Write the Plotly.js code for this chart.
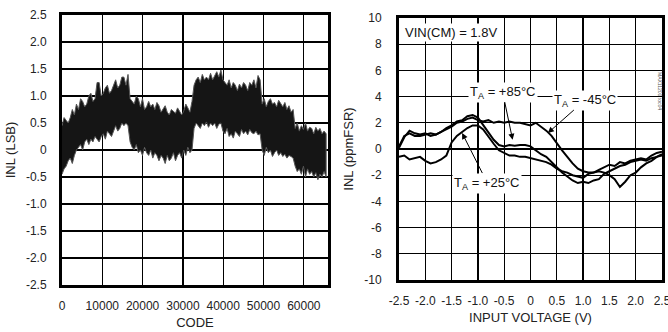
<!DOCTYPE html>
<html><head><meta charset="utf-8">
<script src="https://cdn.plot.ly/plotly-3.0.1.min.js"></script>
<style>html,body{margin:0;padding:0;background:#fff;}#chart{width:668px;height:332px;}</style>
</head><body><div id="chart"></div>
<script>
// ---- Left panel: INL (LSB) vs CODE, noise band envelope ----
const codeStep = 512;
const inlUpper = [
  0.45,0.6,0.55,0.5,0.6,0.75,0.65,0.85,0.75,0.95,0.9,0.8,0.85,1.0,1.05,0.9,0.95,1.25,1.25,1.0,1.05,1.15,1.2,1.05,1.1,1.2,1.3,1.15,1.2,1.35,1.35,1.2,1.4,
  0.95,0.9,0.85,1.0,0.95,0.8,0.95,0.75,0.8,0.9,0.8,0.85,0.75,0.88,0.82,0.7,0.75,0.82,0.7,0.65,0.75,0.72,0.68,0.78,0.7,0.65,0.72,0.85,0.78,0.7,0.9,
  1.2,1.3,1.35,1.25,1.4,1.3,1.35,1.3,1.42,1.3,1.38,1.45,1.35,1.48,1.3,1.25,1.2,1.3,1.15,1.25,1.2,1.1,1.22,1.15,1.25,1.2,1.1,1.25,1.2,1.3,1.15,1.38,1.3,
  0.85,0.95,0.8,0.9,0.95,0.85,0.88,0.8,0.92,0.85,0.8,0.88,0.75,0.82,0.7,0.75,
  0.4,0.5,0.35,0.45,0.38,0.5,0.35,0.42,0.4,0.3,0.42,0.35,0.4,0.3,0.35,0.3];
const inlLower = [
  -0.45,-0.35,-0.3,-0.2,-0.15,-0.25,-0.1,0.0,0.05,0.1,0.0,0.15,0.2,0.1,0.2,0.15,0.25,0.2,0.15,0.25,0.3,0.2,0.35,0.3,0.25,0.35,0.45,0.35,0.4,0.5,0.45,0.5,0.45,
  0.15,0.05,0.0,0.1,-0.05,0.0,-0.1,0.05,-0.05,-0.1,0.0,-0.15,-0.05,-0.1,-0.2,-0.1,-0.15,-0.25,-0.1,-0.2,-0.15,-0.05,-0.2,-0.1,-0.05,-0.15,0.0,-0.1,0.05,-0.05,0.0,
  0.4,0.5,0.45,0.4,0.5,0.45,0.52,0.42,0.5,0.45,0.5,0.4,0.48,0.5,0.35,0.3,0.4,0.25,0.3,0.22,0.35,0.3,0.25,0.38,0.3,0.35,0.28,0.38,0.32,0.3,0.35,0.28,0.3,
  0.0,-0.1,0.05,-0.05,0.0,-0.12,-0.05,0.0,-0.1,-0.05,-0.12,-0.08,-0.15,-0.1,-0.12,-0.15,
  -0.3,-0.4,-0.35,-0.45,-0.3,-0.5,-0.35,-0.45,-0.4,-0.5,-0.42,-0.55,-0.45,-0.5,-0.4,-0.5];
const codes = inlUpper.map((_, i) => i * codeStep);
const codeTicks = [0,10000,20000,30000,40000,50000,60000];
const lsbTicks = [-2.5,-2,-1.5,-1,-0.5,0,0.5,1,1.5,2,2.5];
const lsbTickText = ['-2.5','-2.0','-1.5','-1.0','-0.5','0','0.5','1.0','1.5','2.0','2.5'];

// ---- Right panel: INL (ppmFSR) vs input voltage ----
const volts = [-2.5,-2.4,-2.3,-2.2,-2.1,-2.0,-1.9,-1.8,-1.7,-1.6,-1.5,-1.4,-1.3,-1.2,-1.1,-1.0,-0.9,-0.8,-0.7,-0.6,-0.5,-0.4,-0.3,-0.2,-0.1,0,
  0.1,0.2,0.3,0.4,0.5,0.6,0.7,0.8,0.9,1.0,1.1,1.2,1.3,1.4,1.5,1.6,1.7,1.8,1.9,2.0,2.1,2.2,2.3,2.4,2.5];
const inlM45 = [0.1,0.9,1.4,1.2,1.1,1.2,1.0,1.1,1.3,1.5,1.7,2.0,2.1,2.3,2.4,2.2,2.1,2.2,2.0,2.1,2.0,2.1,2.0,2.0,1.9,1.8,
  2.0,1.7,1.4,1.0,0.4,-0.1,-0.6,-1.1,-1.5,-1.7,-1.8,-1.8,-1.6,-1.4,-1.2,-1.3,-1.0,-1.1,-0.9,-0.8,-0.7,-0.8,-0.5,-0.3,-0.2];
const inlP85 = [0.2,1.0,1.2,1.0,1.0,1.1,1.2,1.1,1.3,1.6,1.8,2.1,2.2,2.5,2.6,2.4,1.8,1.3,0.7,0.3,0.2,0.3,0.25,0.3,0.3,0.2,
  -0.1,-0.4,-0.6,-1.0,-1.4,-1.8,-2.1,-2.4,-2.6,-2.5,-2.6,-2.4,-2.3,-1.9,-1.7,-1.5,-1.3,-1.2,-1.0,-0.9,-0.8,-0.9,-0.7,-0.6,-0.5];
const inlP25 = [-0.6,-0.5,-0.8,-0.7,-0.6,-0.9,-1.1,-1.0,-0.8,-0.5,0.5,1.0,1.3,1.6,1.8,1.8,1.5,0.9,0.4,-0.1,-0.3,-0.5,-0.5,-0.6,-0.6,-0.7,
  -0.8,-0.9,-1.0,-1.2,-1.5,-1.7,-1.8,-2.0,-2.1,-2.2,-1.9,-1.8,-1.7,-1.8,-2.0,-2.3,-2.9,-2.5,-2.0,-1.8,-1.4,-1.1,-0.9,-0.6,-0.4];
const voltTicks = [-2.5,-2,-1.5,-1,-0.5,0,0.5,1,1.5,2,2.5];
const voltTickText = ['-2.5','-2.0','-1.5','-1.0','-0.5','0','0.5','1.0','1.5','2.0','2.5'];
const ppmTicks = [-10,-8,-6,-4,-2,0,2,4,6,8,10];

const FONT = '"Liberation Sans Narrow", "Arial Narrow", "Liberation Sans", Arial, sans-serif';
const tickFont = {family: FONT, size: 12, color: '#222'};
const titleFont = {family: FONT, size: 13, color: '#222'};
const noteFont = {family: FONT, size: 13, color: '#111'};

const bandX = codes.concat(codes.slice().reverse());
const bandY = inlUpper.concat(inlLower.slice().reverse());

const traces = [
  {x: bandX, y: bandY, xaxis: 'x', yaxis: 'y', mode: 'lines', fill: 'toself',
   fillcolor: '#151515', line: {color: '#555', width: 1}, hoverinfo: 'skip'},
  {x: volts, y: inlM45, xaxis: 'x2', yaxis: 'y2', mode: 'lines', line: {color: '#000', width: 2}},
  {x: volts, y: inlP85, xaxis: 'x2', yaxis: 'y2', mode: 'lines', line: {color: '#000', width: 2}},
  {x: volts, y: inlP25, xaxis: 'x2', yaxis: 'y2', mode: 'lines', line: {color: '#000', width: 2}}
];

const W = 668, H = 332;
const axBase = {showline: true, mirror: true, linecolor: '#000', linewidth: 3,
  showgrid: true, gridcolor: '#000', gridwidth: 1.3, zeroline: false, ticks: '',
  tickfont: tickFont, tickangle: 0, ticklabeloverflow: 'allow', fixedrange: true};

const arrowNote = (text, hx, hy, lx, ly) => ({
  xref: 'x2', yref: 'y2', axref: 'x2', ayref: 'y2', x: hx, y: hy, ax: lx, ay: ly,
  text: text, showarrow: true, arrowhead: 2, arrowsize: 1.2, arrowwidth: 1, arrowcolor: '#000',
  bgcolor: '#fff', borderpad: 1, font: noteFont});

const layout = {
  width: W, height: H, margin: {l: 0, r: 0, t: 0, b: 0},
  paper_bgcolor: '#fff', plot_bgcolor: '#fff', showlegend: false,
  xaxis: Object.assign({}, axBase, {domain: [62/W, 328/W], range: [0, 66000],
    tickvals: codeTicks, ticktext: codeTicks.map(String), anchor: 'y',
    ticklabelstandoff: 8,
    title: {text: 'CODE', font: titleFont, standoff: 6}}),
  yaxis: Object.assign({}, axBase, {domain: [(H-285)/H, (H-15)/H], range: [-2.5, 2.5],
    tickvals: lsbTicks, ticktext: lsbTickText, anchor: 'x', ticklabelstandoff: 10,
    title: {text: 'INL (LSB)', font: titleFont, standoff: 8}}),
  xaxis2: Object.assign({}, axBase, {domain: [399/W, 662/W], range: [-2.5, 2.5],
    tickvals: voltTicks, ticktext: voltTickText, anchor: 'y2', ticklabelstandoff: 8,
    title: {text: 'INPUT VOLTAGE (V)', font: titleFont, standoff: 6}}),
  yaxis2: Object.assign({}, axBase, {domain: [(H-280)/H, (H-18)/H], range: [-10, 10],
    tickvals: ppmTicks, ticktext: ppmTicks.map(String), anchor: 'x2', ticklabelstandoff: 12,
    title: {text: 'INL (ppmFSR)', font: titleFont, standoff: 8}}),
  annotations: [
    {xref: 'x2', yref: 'y2', x: -2.42, y: 8.9, xanchor: 'left', yanchor: 'middle', showarrow: false,
     text: 'VIN(CM) = 1.8V', bgcolor: '#fff', borderpad: 1, font: noteFont},
    arrowNote('T<sub>A</sub> = +85°C', -0.34, 0.7, -0.53, 4.35),
    arrowNote('T<sub>A</sub> = -45°C', 0.33, 1.22, 1.04, 3.74),
    arrowNote('T<sub>A</sub> = +25°C', -1.3, 1.22, -0.82, -2.6),
    {xref: 'paper', yref: 'paper', x: 665/W, y: (H-70)/H, showarrow: false, textangle: 90,
     text: 'MAX11200 toc04', font: {family: FONT, size: 5, color: '#555'}}
  ]
};

Plotly.newPlot('chart', traces, layout, {displayModeBar: false, staticPlot: true});
</script></body></html>
